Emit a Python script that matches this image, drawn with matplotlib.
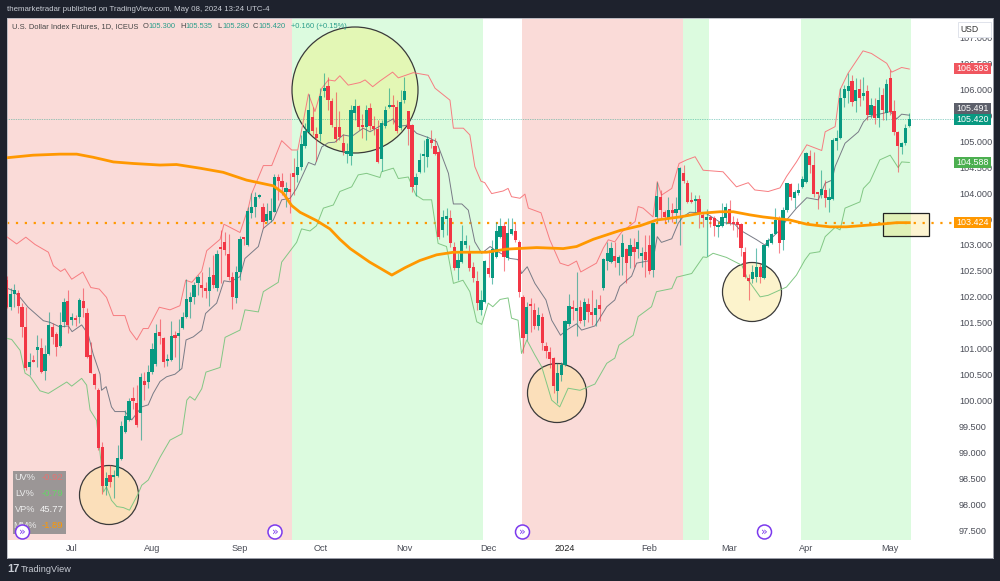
#Preambule
import numpy as np
import matplotlib
matplotlib.use('Agg')
import matplotlib.pyplot as plt
from matplotlib.patches import Ellipse, Rectangle

#%% Data, daily candles (DX1!)
opens = [102.32,101.81,102.05,102.08,101.80,101.42,100.65,100.78,100.97,101.01,100.57,100.90,101.42,101.28,101.05,101.52,101.92,101.56,101.56,101.62,
         101.92,101.69,100.88,100.51,100.20,99.10,98.36,98.57,98.52,98.55,98.88,99.40,99.63,100.05,99.95,99.76,100.38,100.36,100.55,100.71,
         101.32,101.21,100.76,100.78,101.25,101.25,101.40,101.61,101.90,101.99,102.27,102.21,102.17,102.11,102.42,102.17,102.94,103.05,102.83,102.38,
         101.98,102.48,103.13,103.00,103.62,103.73,103.92,103.73,103.46,103.48,103.63,104.31,104.23,104.02,104.04,104.39,104.35,104.51,104.90,105.17,
         105.47,105.13,105.14,105.97,106.06,105.78,105.27,105.27,104.96,104.75,104.72,105.54,105.67,105.29,105.28,105.63,105.29,105.23,104.65,105.29,
         105.65,105.68,105.65,105.25,105.79,105.59,105.31,104.16,104.40,104.71,104.69,105.02,104.90,104.79,103.29,103.50,103.51,102.97,102.55,102.68,
         103.00,102.89,102.58,102.31,101.75,101.91,102.55,102.36,102.77,103.16,103.37,102.74,103.22,103.27,103.05,101.99,101.28,101.83,101.75,101.43,
         101.62,101.05,100.94,100.82,100.19,100.50,100.68,101.47,101.79,101.73,101.80,101.55,101.86,101.67,101.65,101.84,102.18,102.69,102.68,102.78,
         102.66,102.76,102.92,102.78,102.97,102.92,102.79,102.87,103.00,102.52,103.53,103.93,103.63,103.51,103.67,103.61,103.67,104.38,104.19,103.87,
         103.84,103.88,103.58,103.48,103.51,103.51,103.34,103.37,103.51,103.69,103.43,103.40,103.40,102.87,102.37,102.34,102.38,102.57,102.36,102.98,
         103.03,103.22,103.51,103.10,103.68,104.18,103.90,104.00,104.12,104.22,104.72,104.54,104.01,103.97,104.06,103.87,103.89,105.01,105.06,105.83,
         105.97,106.16,105.77,106.00,105.87,105.97,105.50,105.67,105.44,105.89,105.55,106.21,105.59,105.17,104.88,104.96,105.30]
highs = [102.40,102.17,102.25,102.13,101.88,101.80,100.92,100.88,101.26,101.20,101.07,101.70,101.50,101.32,101.71,101.98,102.13,101.69,101.66,101.98,
         102.17,101.78,101.13,100.53,100.24,99.20,98.63,98.76,98.67,99.15,99.60,99.82,100.05,100.26,100.30,100.53,100.55,100.69,101.11,101.48,
         101.57,101.23,100.90,101.53,101.34,101.57,101.71,102.34,102.09,102.29,102.42,102.48,102.29,102.58,102.81,102.90,103.29,103.25,103.21,102.48,
         102.60,103.17,103.15,103.73,104.00,104.02,103.98,103.81,103.81,103.90,104.37,104.37,104.39,104.21,104.39,104.68,104.83,105.12,105.35,105.91,
         105.65,105.27,106.02,106.31,106.24,105.83,105.95,105.59,105.14,104.96,105.70,105.81,105.70,105.52,105.70,105.73,105.49,105.41,105.41,105.68,
         106.03,105.89,105.80,105.99,106.24,105.59,105.33,104.38,104.77,105.02,105.09,105.22,105.06,104.83,103.67,103.71,103.68,103.05,102.84,103.38,
         103.20,103.00,102.68,102.49,102.13,102.71,102.90,103.10,103.45,103.51,103.45,103.51,103.51,103.42,103.10,102.04,101.91,101.97,101.88,101.81,
         101.68,101.14,101.04,100.85,100.72,100.75,101.55,102.05,101.94,102.47,101.94,101.97,101.97,102.13,101.95,102.04,102.74,103.06,103.06,103.06,
         102.81,103.22,102.94,103.13,103.13,103.28,102.97,103.19,103.19,103.45,104.22,104.06,103.67,103.93,103.80,103.93,104.51,104.54,104.25,104.03,
         103.96,103.96,103.64,103.69,103.58,103.55,103.45,103.80,103.80,103.87,103.55,103.51,103.42,102.97,102.45,102.62,102.94,102.65,103.00,103.13,
         103.24,103.71,103.55,103.74,104.20,104.19,104.06,104.19,104.32,104.80,104.83,104.80,104.03,104.45,104.25,104.09,105.06,105.22,106.02,106.08,
         106.32,106.28,106.21,106.19,106.24,106.08,105.83,105.83,106.05,106.02,106.19,106.37,105.79,105.19,104.99,105.33,105.535]
lows = [101.78,101.75,101.80,101.68,101.23,100.59,100.50,100.74,100.65,100.53,100.40,100.88,101.10,100.86,101.03,101.42,101.30,101.46,101.44,101.50,
        101.62,100.82,100.53,100.22,99.05,98.20,98.18,98.34,98.13,98.53,98.86,99.38,99.60,99.84,99.49,99.24,100.01,100.24,100.51,100.67,
        101.09,100.65,100.67,100.76,100.84,100.59,101.38,101.59,101.59,101.86,102.04,102.00,101.98,101.82,102.17,102.11,102.27,102.81,102.33,101.77,
        101.88,102.33,103.00,102.98,103.52,103.54,103.90,103.33,103.42,103.44,103.63,103.87,103.96,103.73,103.62,103.96,104.21,104.45,104.86,105.15,
        105.12,104.61,105.01,105.86,105.61,105.28,104.99,105.02,104.73,104.57,104.54,105.41,105.22,105.06,105.02,105.22,105.12,104.57,104.43,105.25,
        105.63,105.34,105.15,105.22,105.73,104.93,104.03,103.95,104.38,104.41,104.51,104.86,104.73,103.12,103.16,103.20,102.97,102.52,102.33,102.65,
        102.95,102.50,102.29,101.75,101.65,101.89,102.39,102.24,102.74,103.13,102.49,102.71,103.19,103.06,102.00,100.91,101.17,101.33,101.39,101.36,
        100.98,100.82,100.62,100.14,99.95,100.38,100.67,101.44,101.55,101.25,101.50,101.43,101.52,101.46,101.43,101.54,102.13,102.52,102.65,102.58,
        102.42,102.42,102.26,102.55,102.58,102.74,102.58,102.39,102.45,102.38,103.45,103.51,103.45,103.45,103.45,103.42,103.00,104.19,103.80,103.80,
        103.61,103.32,103.34,102.78,103.34,103.18,103.16,103.34,103.40,103.39,103.29,103.16,102.78,102.36,101.94,102.26,102.29,102.26,102.35,102.96,
        103.02,103.21,102.84,102.90,103.64,103.87,103.71,103.96,104.09,104.19,104.38,103.93,103.69,103.90,103.74,103.64,103.87,104.83,105.04,105.65,
        105.73,105.67,105.57,105.68,105.79,105.41,105.44,105.34,105.28,105.41,105.41,105.50,105.12,104.41,104.75,104.93,105.28]
closes = [101.81,102.06,102.14,101.82,101.42,100.63,100.75,100.74,101.03,100.55,100.90,101.46,101.23,101.03,101.46,101.90,101.46,101.58,101.55,101.94,
          101.78,100.84,100.53,100.30,99.09,98.36,98.51,98.43,98.56,98.90,99.52,99.71,99.99,99.99,99.53,100.46,100.30,100.55,101.00,101.30,
          101.25,100.75,100.78,101.25,101.21,101.30,101.61,101.96,101.99,102.23,102.38,102.17,102.11,102.38,102.23,102.83,102.92,102.90,102.38,101.99,
          102.48,103.11,103.11,103.65,103.73,103.92,103.96,103.44,103.60,103.65,104.31,104.23,104.11,104.10,104.02,104.31,104.50,104.95,105.20,105.61,
          105.19,105.06,105.87,105.98,105.79,105.31,105.04,105.08,104.81,104.82,105.61,105.68,105.28,105.27,105.60,105.29,105.24,104.59,105.35,105.60,
          105.68,105.65,105.19,105.75,105.97,105.24,104.12,104.31,104.64,104.72,105.04,104.96,104.75,103.16,103.53,103.51,103.04,102.56,102.71,103.08,
          103.08,102.55,102.36,101.89,101.94,102.69,102.45,102.92,103.26,103.37,102.76,103.24,103.31,103.10,102.10,101.20,101.81,101.82,101.43,101.66,
          101.11,100.96,100.80,100.28,100.53,100.68,101.53,101.82,101.76,101.77,101.54,101.91,101.70,101.65,101.78,101.77,102.73,102.84,102.95,102.69,
          102.76,103.03,102.66,103.00,102.86,103.05,102.84,102.71,102.50,103.42,103.95,103.67,103.53,103.67,103.61,103.69,104.48,104.24,103.83,103.82,
          103.87,103.60,103.51,103.50,103.49,103.37,103.39,103.53,103.73,103.43,103.40,103.39,102.95,102.38,102.31,102.47,102.57,102.38,102.99,103.10,
          103.22,103.48,103.03,103.68,104.19,103.93,104.02,104.06,104.27,104.77,104.54,103.98,103.98,104.07,103.90,103.93,105.02,105.06,105.83,106.00,
          106.06,105.76,105.99,105.83,105.91,105.50,105.70,105.44,105.79,105.61,106.10,105.57,105.17,104.91,104.96,105.26,105.42]

# bands, (bar number, price) read at the bends of each line
upper_bar = [0,2.6,5,7.4,10.9,12.2,14.1,15.2,17,19.9,22,24.2,26.1,27.9,30.9,32.2,34,35.7,37,39.9,42.7,45.3,46.8,48.4,51,52.3,55.8,56.8,58.4,61,63.2,64,67.1,69.3,71.9,74.5,76.1,77.1,78.9,80.6,82.4,84.1,85.8,87.1,89.3,92.4,93.7,95.7,97.6,100.9,102.4,106.3,110.2,112,115.9,116.8,119.4,121.1,122.4,124,125,126.8,129.8,131.1,132,134.2,135.5,136.4,139.7,142,144.7,146.8,149,150.1,154.2,156,157.3,159,160.8,164.3,165.1,166.4,169,170.1,171.2,173.9,175.8,177.8,180,182.1,187.3,190.8,193.9,195.6,199.1,202.2,203.9,206.5,209.2,213.1,214,216.6,217.9,220,223.9,226.1,230.1,231.4,234,236]
upper_val = [103.16,103.02,103.15,103.01,102.86,102.60,102.49,102.54,102.34,102.48,102.18,102.15,101.99,101.64,101.64,101.35,101.17,101.39,101.39,101.80,101.75,101.83,102.32,102.28,102.50,102.89,103.11,103.40,103.34,103.24,103.72,103.98,104.53,104.53,105.01,104.83,104.83,105.21,105.91,105.57,106.02,106.18,106.16,106.26,106.08,106.13,106.18,106.05,106.16,106.33,106.22,106.32,106.27,106.02,105.79,105.25,105.25,105.12,104.51,104.23,104.20,103.99,104.04,104.09,103.93,103.90,103.98,103.71,103.62,103.10,102.65,102.60,102.69,102.48,102.65,102.94,103.10,103.06,103.25,103.45,103.74,103.71,103.54,104.22,103.96,104.09,104.57,104.64,104.70,104.44,104.41,104.12,104.20,104.06,104.03,104.10,104.32,104.60,104.93,104.82,105.18,105.28,105.99,106.31,106.74,106.69,106.50,106.33,106.42,106.39]
mid_bar = [0,1.6,3.5,5.6,9.6,11.3,13.9,16.1,17.1,19.6,21.3,22.6,24.4,24.8,26,27.4,28.3,30.9,32.7,35.3,37,38.3,40.1,41.8,44,45.8,46.9,48.8,51,52,54.9,56.8,58.4,61,62.3,65.8,67.1,69.7,71.9,74.1,75.8,78.9,80.6,82.4,84.1,85.8,88,90.2,93.2,95,98,101.1,102,105,107.2,110.2,112.4,115.5,116.8,119,120.7,122.4,124.2,126.4,127.7,131.6,133.7,134.6,136.1,138.1,141,142.5,144.8,146.4,149,150.3,153.8,156.9,159,160.3,163.4,164.7,169,170.1,171.2,173.9,175.6,176.8,178.6,182.6,186.5,190.4,191.7,196.1,198.2,199.5,202.2,203.9,206.5,209.2,212.2,214,215.8,216.6,219.2,222.7,224,225.3,231,232.7,234,236]
mid_val = [102.17,102.12,101.99,101.80,101.54,101.51,101.42,101.44,101.33,101.46,101.28,100.90,100.51,100.20,100.27,99.88,99.79,99.79,99.63,99.88,99.92,100.14,100.37,100.46,100.51,100.62,101.17,101.23,101.36,101.68,101.88,102.31,102.29,102.39,102.74,102.97,103.32,103.48,103.87,103.90,104.09,104.59,104.54,104.89,104.97,104.98,105.12,105.09,105.25,105.18,105.31,105.43,105.28,105.31,105.15,105.07,104.99,104.38,103.79,103.79,103.67,103.06,102.84,102.97,102.90,102.74,102.72,102.45,102.58,102.26,101.94,101.55,101.26,101.36,101.48,101.36,101.44,101.81,101.94,102.20,102.40,102.65,102.71,103.16,103.05,103.12,103.42,103.54,103.63,103.62,103.44,103.40,103.29,103.10,103.00,103.10,103.29,103.48,103.71,103.91,103.87,104.19,104.25,104.51,104.96,105.18,105.37,105.47,105.57,105.43,105.52,105.50]
lower_bar = [0,1.3,3.5,4.8,6.1,8.7,10.9,15.7,17,19.6,20.9,21.8,23.5,24.8,25.3,26.1,27.4,28.8,30.5,32.1,34.4,35.3,37,40.1,42.7,45.8,47.1,47.9,49.2,51,52.1,55.8,57.1,61,62.3,65.8,67.1,71,71.9,75.8,77.1,79.3,81,82.8,85.4,87.1,90.2,91.9,94.1,97.6,98,101.1,102.4,105,107,108.9,111.1,112.8,115,116.8,119.3,121.1,122.9,124.2,125.9,127.1,129,131.1,132,133.7,134.6,136,138.1,139.9,142.5,144.6,146.8,149.9,153.8,156.9,159,160.1,163.8,165.1,168.6,169.9,173.9,175.2,179.1,182.1,183,184.7,188.2,192.2,193.9,197,199.1,203.9,206.5,208.7,210,212.6,214,216.6,217.9,219.2,223.1,224,225.7,228.3,231,233.1,234,236]
lower_val = [101.20,101.18,100.97,100.53,100.47,100.19,100.14,100.36,100.28,100.43,100.30,99.82,99.62,98.72,98.24,98.34,98.08,97.96,97.94,97.89,98.21,98.37,98.47,98.91,99.24,99.36,100.01,100.08,100.01,100.23,100.55,100.64,101.22,101.36,101.75,101.71,102.10,102.28,102.67,103.05,103.31,103.27,103.37,103.71,103.77,104.03,104.12,104.35,104.38,104.30,104.41,104.48,104.28,104.31,103.96,103.87,103.87,103.03,102.97,102.26,102.32,102.10,101.52,101.47,101.88,101.81,101.95,101.98,101.59,101.55,100.91,101.17,100.88,100.65,100.01,99.88,100.24,100.20,100.32,100.72,100.82,101.07,101.26,101.62,101.81,102.10,102.16,102.38,102.45,102.77,102.76,102.84,102.76,102.61,102.32,102.00,102.03,102.19,102.42,102.71,102.84,102.87,103.16,103.34,103.29,103.71,103.83,104.09,104.22,104.64,104.73,104.49,104.60,104.59]
ma_bar = [0,6.9,13.9,18.3,22.6,27.9,33.1,40.1,44.4,50.5,56.6,62.7,69.7,72.3,74.5,76.7,81,84.5,87.1,89.8,94.9,100.7,104.1,108,112.4,116.8,125.5,130.7,138.6,145.5,149,153.4,160.4,165.6,169.9,176,181.3,186.5,190,194.3,197.8,201.3,204.8,209.2,212.6,215.2,219.6,228.3,232.7,236]
ma_val = [104.68,104.73,104.75,104.75,104.69,104.60,104.57,104.54,104.55,104.48,104.40,104.25,104.14,104.00,103.76,103.63,103.47,103.31,103.11,102.93,102.67,102.42,102.56,102.70,102.81,102.86,102.86,102.92,102.95,102.93,102.97,103.11,103.28,103.37,103.48,103.54,103.61,103.64,103.64,103.58,103.54,103.51,103.48,103.40,103.37,103.35,103.35,103.40,103.43,103.43]

# background zones: bar number where each starts and ends
pink_zones = [(-1,74.6),(134.7,176.8)]
green_zones = [(74.6,124.5),(176.8,183.6),(207.7,236.5)]

month_bars = [17,38,61,82,104,126,146,168,189,209,231]
month_labels = ['Jul','Aug','Sep','Oct','Nov','Dec','2024','Feb','Mar','Apr','May']
price_ticks = np.arange(97.5,107.5,0.5)
tag_prices = [106.393,105.491,105.420,104.588,103.424]
tag_colors = ['#f0565f','#5d606b','#089981','#4caf50','#ff9800']

#%% Figure
BG='#1e222d'
plt.rcParams['font.family']=['Liberation Sans','DejaVu Sans']
fig=plt.figure(figsize=(10,5.81),dpi=100,facecolor=BG)

def fx(x): return x/1000.
def fy(y): return 1-y/581.
T=fig.transFigure

# white pane, 7..993 by 18..558 pixels, price scale fits 51.9 px per point
ax=fig.add_axes([fx(7),fy(558),fx(986),fy(18)-fy(558)])
n=len(opens)
step=(909.3-6.7)/(n-1)
ax.set_xlim((7-6.7)/step,(993-6.7)/step)
ax.set_ylim(107.72-558/51.9,107.72-18/51.9)
for s in ax.spines.values():
    s.set_color('#b2b5be')
    s.set_linewidth(0.6)

strip=18./540  # time scale strip at the bottom
for z in pink_zones:
    ax.axvspan(z[0],z[1],ymin=strip,color='#fadbd8',lw=0,zorder=0)
for z in green_zones:
    ax.axvspan(z[0],z[1],ymin=strip,color='#dcfbdf',lw=0,zorder=0)

# circles and box drawn by hand on the chart
for cx,cy,r,col,a in [(355,90,63,'#ffed20',0.22),(109,495,29.5,'#ffeb64',0.25),(557,393,29.5,'#ffeb64',0.25),(752,292,29.5,'#f5cc19',0.22)]:
    ax.add_patch(Ellipse((fx(cx),fy(cy)),2*r/1000.,2*r/581.,transform=T,fc=matplotlib.colors.to_rgba(col,a),ec='#3a3a3a',lw=0.9,zorder=1))
ax.add_patch(Rectangle((fx(883),fy(236)),46/1000.,23/581.,transform=T,fc=matplotlib.colors.to_rgba('#f5cc19',0.2),ec='#222222',lw=0.9,zorder=1))

xend=(955-6.7)/step
ax.plot([0,xend],[103.424,103.424],color='#ff9800',lw=1.6,ls=(0,(1,3)),zorder=2)
ax.plot([0,xend],[105.42,105.42],color='#089981',lw=0.5,ls=(0,(1,1.5)),alpha=0.8,zorder=2)

ax.plot(upper_bar,upper_val,color='#f77c80',lw=0.7,zorder=3)
ax.plot(mid_bar,mid_val,color='#787b86',lw=0.7,zorder=3)
ax.plot(lower_bar,lower_val,color='#81c784',lw=0.7,zorder=3)
ax.plot(ma_bar,ma_val,color='#ff9800',lw=2.0,zorder=5)

# candles
bars=np.arange(n)
o=np.array(opens); h=np.array(highs); l=np.array(lows); c=np.array(closes)
cols=np.where(c>=o,'#089981','#f23645')
ax.vlines(bars,l,h,colors=cols,lw=0.8,alpha=0.6,zorder=4)
body=np.maximum(np.abs(c-o),0.05)
ax.bar(bars,body,bottom=np.minimum(o,c),width=0.84,color=cols,lw=0,zorder=4)

# axes labels
ax.yaxis.tick_right()
ax.set_yticks(price_ticks)
ax.set_yticklabels(['%.3f'%p for p in price_ticks])
ax.tick_params(axis='y',direction='in',length=0,pad=-24.5,labelsize=6.6,labelcolor='#4a4d57')
ax.set_xticks(month_bars)
ax.set_xticklabels(month_labels)
ax.tick_params(axis='x',direction='in',length=0,pad=-10,labelsize=6.6,labelcolor='#4a4d57')
ax.xaxis.get_majorticklabels()[6].set_color('#222222')

# price tags, grey one gets pushed up above the last price like on the site
for p,col in zip(tag_prices,tag_colors):
    y=245+(103-p)*51.9
    if p==105.491:
        y=108.7
    ax.add_patch(Rectangle((fx(954),fy(y+5.5)),37/1000.,11/581.,transform=T,fc=col,ec='none',zorder=7,clip_on=False))
    ax.text(fx(972.5),fy(y),'%.3f'%p,transform=T,color='white',fontsize=6.4,ha='center',va='center',zorder=8)

# USD button
ax.add_patch(Rectangle((fx(958),fy(37)),33/1000.,15/581.,transform=T,fc='white',ec='#e0e3eb',lw=0.7,zorder=7))
ax.text(fx(969),fy(29.5),'USD',transform=T,color='#333333',fontsize=6.2,ha='center',va='center',zorder=8)

# legend line on top
ax.text(fx(12),fy(27),'U.S. Dollar Index Futures, 1D, ICEUS',transform=T,color='#444444',fontsize=5.4,va='center',zorder=8)
for x,lab,val in [(143,'O','105.300'),(180,'H','105.535'),(217,'L','105.280'),(253,'C','105.420')]:
    ax.text(fx(x),fy(27),lab,transform=T,color='#444444',fontsize=5.4,va='center',zorder=8)
    ax.text(fx(x+5.5),fy(27),val,transform=T,color='#2a9d8a',fontsize=5.4,va='center',zorder=8)
ax.text(fx(291),fy(27),'+0.160 (+0.15%)',transform=T,color='#2a9d8a',fontsize=5.4,va='center',zorder=8)

# stats table
ax.add_patch(Rectangle((fx(13),fy(534)),53/1000.,63/581.,transform=T,fc='#9b9696',ec='none',zorder=6))
for y,lab,val,col in [(478,'UV%','-0.92','#e57373'),(494,'LV%','-0.79','#66d466'),(510,'VP%','45.77','#f2f2f2'),(525,'MM%','-1.89','#ff9800')]:
    ax.text(fx(25),fy(y),lab,transform=T,color='#ececec',fontsize=6.6,ha='center',va='center',zorder=7)
    ax.text(fx(52),fy(y),val,transform=T,color=col,fontsize=6.8,ha='center',va='center',zorder=7)

# purple session break icons
for x in [22.5,275,522.5,764.5]:
    ax.add_patch(Ellipse((fx(x),fy(532)),14/1000.,14/581.,transform=T,fc='white',ec='#7c3aed',lw=1.1,zorder=8,clip_on=False))
    ax.text(fx(x),fy(532),'\u00bb',transform=T,color='#7c3aed',fontsize=8,ha='center',va='center',zorder=9,family='DejaVu Sans')

# page header and footer
fig.text(fx(7),fy(9.5),'themarketradar published on TradingView.com, May 08, 2024 13:24 UTC-4',color='#c8ccd4',fontsize=5.65,va='center')
fig.text(fx(7),fy(569),'17',color='#c8ccd4',fontsize=8,fontweight='bold',va='center')
fig.text(fx(21),fy(569),'TradingView',color='#c8ccd4',fontsize=6.6,va='center')

fig.savefig('out.png',dpi=100,facecolor=BG)
